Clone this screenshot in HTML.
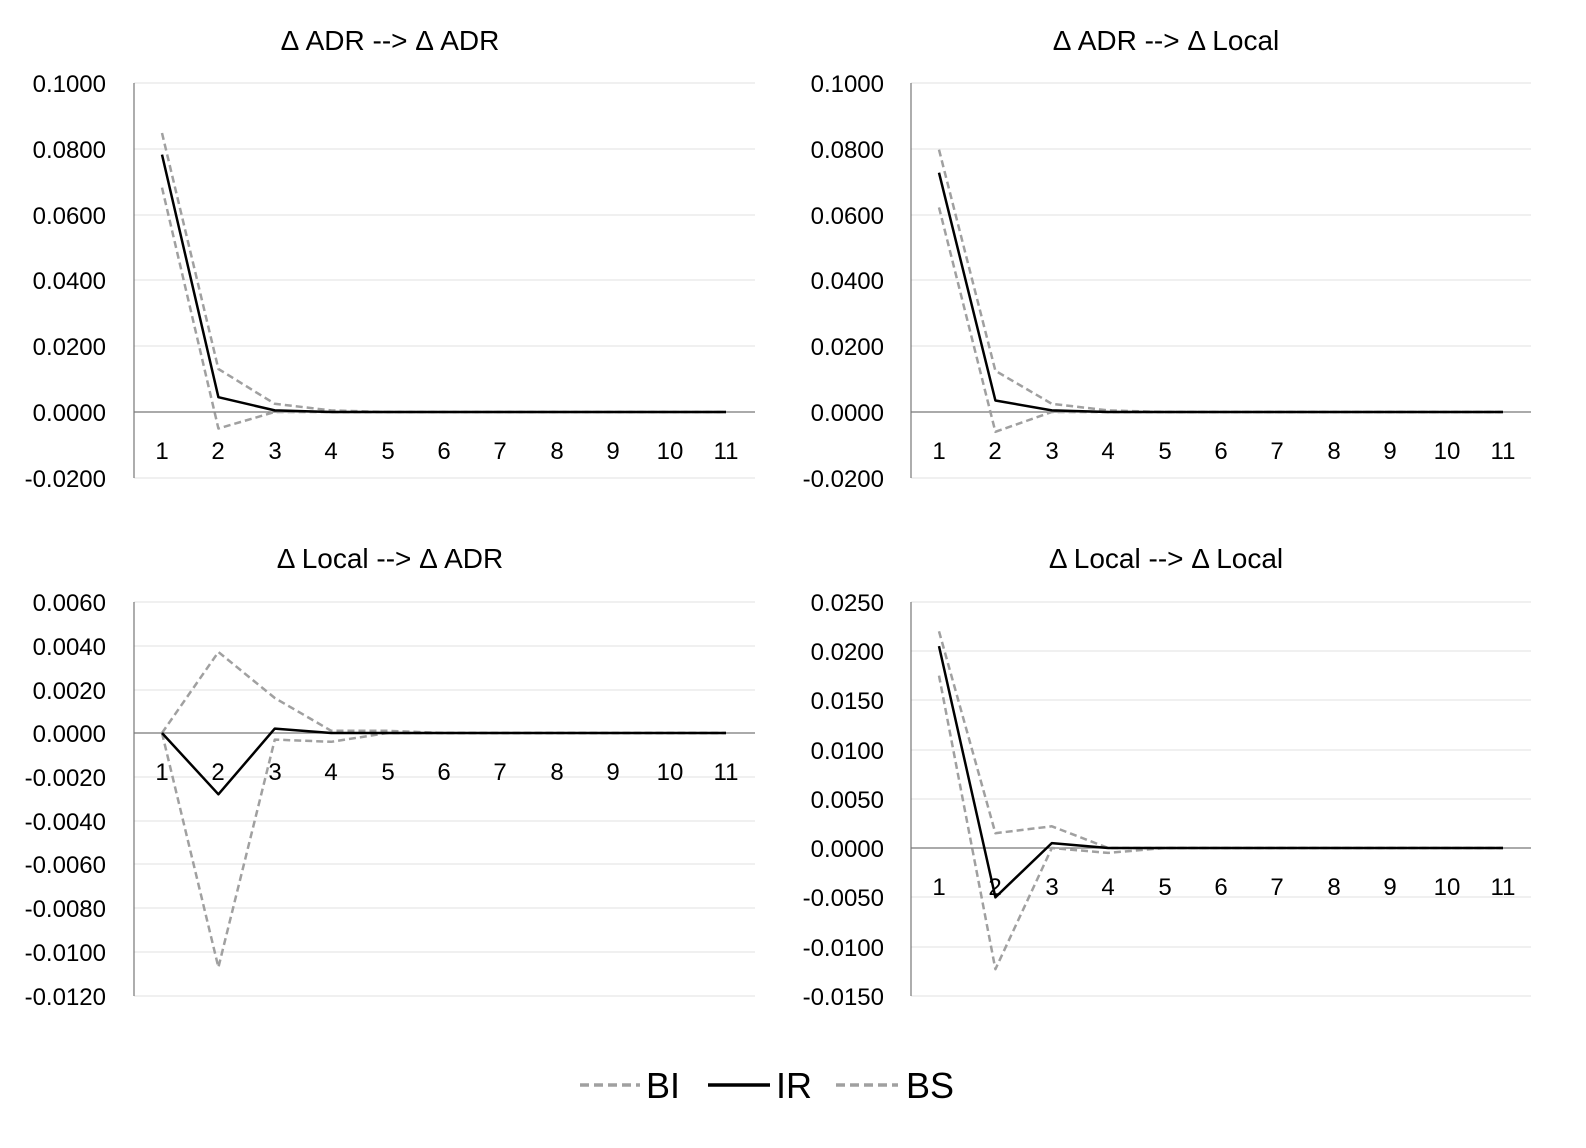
<!DOCTYPE html>
<html><head><meta charset="utf-8"><style>body{margin:0;background:#fff}svg{display:block;font-family:"Liberation Sans",sans-serif}</style></head><body>
<svg width="1586" height="1148" viewBox="0 0 1586 1148" xmlns="http://www.w3.org/2000/svg">
<rect width="1586" height="1148" fill="#fff"/>
<g font-size="28" text-anchor="middle" fill="#000">
<text x="390" y="50">Δ ADR --&gt; Δ ADR</text>
<text x="1166" y="50">Δ ADR --&gt; Δ Local</text>
<text x="390" y="568">Δ Local --&gt; Δ ADR</text>
<text x="1166" y="568">Δ Local --&gt; Δ Local</text>
</g>
<g stroke="#e0e0e0" stroke-width="1">
<path d="M134 83H755M134 149H755M134 215H755M134 280H755M134 346H755M134 478H755"/>
<path d="M911 83H1531M911 149H1531M911 215H1531M911 280H1531M911 346H1531M911 478H1531"/>
<path d="M134 602H755M134 646H755M134 690H755M134 777H755M134 821H755M134 864H755M134 908H755M134 952H755M134 996H755"/>
<path d="M911 602H1531M911 651H1531M911 700H1531M911 750H1531M911 799H1531M911 897H1531M911 947H1531M911 996H1531"/>
</g>
<g stroke="#777" stroke-width="1.2">
<path d="M134 83V478M134 412H755"/>
<path d="M911 83V478M911 412H1531"/>
<path d="M134 602V996M134 733H755"/>
<path d="M911 602V996M911 848H1531"/>
</g>
<g font-size="24" fill="#000" text-anchor="end">
<text x="106" y="92">0.1000</text><text x="106" y="158">0.0800</text><text x="106" y="224">0.0600</text><text x="106" y="289">0.0400</text><text x="106" y="355">0.0200</text><text x="106" y="421">0.0000</text><text x="106" y="487">-0.0200</text>
<text x="884" y="92">0.1000</text><text x="884" y="158">0.0800</text><text x="884" y="224">0.0600</text><text x="884" y="289">0.0400</text><text x="884" y="355">0.0200</text><text x="884" y="421">0.0000</text><text x="884" y="487">-0.0200</text>
<text x="106" y="611">0.0060</text><text x="106" y="655">0.0040</text><text x="106" y="699">0.0020</text><text x="106" y="742">0.0000</text><text x="106" y="786">-0.0020</text><text x="106" y="830">-0.0040</text><text x="106" y="873">-0.0060</text><text x="106" y="917">-0.0080</text><text x="106" y="961">-0.0100</text><text x="106" y="1005">-0.0120</text>
<text x="884" y="611">0.0250</text><text x="884" y="660">0.0200</text><text x="884" y="709">0.0150</text><text x="884" y="759">0.0100</text><text x="884" y="808">0.0050</text><text x="884" y="857">0.0000</text><text x="884" y="906">-0.0050</text><text x="884" y="956">-0.0100</text><text x="884" y="1005">-0.0150</text>
</g>
<g font-size="24" fill="#000" text-anchor="middle">
<g transform="translate(0,459)"><text x="162">1</text><text x="218">2</text><text x="275">3</text><text x="331">4</text><text x="388">5</text><text x="444">6</text><text x="500">7</text><text x="557">8</text><text x="613">9</text><text x="670">10</text><text x="726">11</text></g>
<g transform="translate(777,459)"><text x="162">1</text><text x="218">2</text><text x="275">3</text><text x="331">4</text><text x="388">5</text><text x="444">6</text><text x="500">7</text><text x="557">8</text><text x="613">9</text><text x="670">10</text><text x="726">11</text></g>
<g transform="translate(0,780)"><text x="162">1</text><text x="218">2</text><text x="275">3</text><text x="331">4</text><text x="388">5</text><text x="444">6</text><text x="500">7</text><text x="557">8</text><text x="613">9</text><text x="670">10</text><text x="726">11</text></g>
<g transform="translate(777,895)"><text x="162">1</text><text x="218">2</text><text x="275">3</text><text x="331">4</text><text x="388">5</text><text x="444">6</text><text x="500">7</text><text x="557">8</text><text x="613">9</text><text x="670">10</text><text x="726">11</text></g>
</g>
<g fill="none" stroke-width="2.5" stroke-linejoin="round">
<polyline stroke="#a0a0a0" stroke-dasharray="7,4" points="162,133 218.4,369 274.8,403.8 331.2,410.4 387.6,412 726,412"/>
<polyline stroke="#a0a0a0" stroke-dasharray="7,4" points="162,187.6 218.4,428.5 274.8,412 726,412"/>
<polyline stroke="#000" points="162,154.6 218.4,397.2 274.8,410.4 331.2,412 726,412"/>
<polyline stroke="#a0a0a0" stroke-dasharray="7,4" points="939,149.7 995.4,370.8 1051.8,403.8 1108.2,410.4 1164.6,412 1503,412"/>
<polyline stroke="#a0a0a0" stroke-dasharray="7,4" points="939,207.4 995.4,431.8 1051.8,412 1503,412"/>
<polyline stroke="#000" points="939,172.7 995.4,400.5 1051.8,410.4 1108.2,412 1503,412"/>
<polyline stroke="#a0a0a0" stroke-dasharray="7,4" points="162,733 218.4,652 274.8,698 331.2,730.8 387.6,730.8 444,733 726,733"/>
<polyline stroke="#a0a0a0" stroke-dasharray="7,4" points="162,733 218.4,967.3 274.8,739.6 331.2,741.8 387.6,733 726,733"/>
<polyline stroke="#000" points="162,733 218.4,794.3 274.8,728.6 331.2,733 726,733"/>
<polyline stroke="#a0a0a0" stroke-dasharray="7,4" points="939,631.3 995.4,833.2 1051.8,826.3 1108.2,848 1503,848"/>
<polyline stroke="#a0a0a0" stroke-dasharray="7,4" points="939,675.6 995.4,969.2 1051.8,848 1108.2,852.9 1164.6,848 1503,848"/>
<polyline stroke="#000" points="939,646.1 995.4,897.3 1051.8,843.1 1108.2,848 1503,848"/>
</g>
<g font-size="36" fill="#000">
<line x1="580" y1="1085" x2="640" y2="1085" stroke="#a0a0a0" stroke-width="3.5" stroke-dasharray="9,5"/>
<text x="646" y="1098">BI</text>
<line x1="708" y1="1085" x2="770" y2="1085" stroke="#000" stroke-width="3.5"/>
<text x="776" y="1098">IR</text>
<line x1="836" y1="1085" x2="898" y2="1085" stroke="#a0a0a0" stroke-width="3.5" stroke-dasharray="9,5"/>
<text x="906" y="1098">BS</text>
</g>
</svg>
</body></html>
